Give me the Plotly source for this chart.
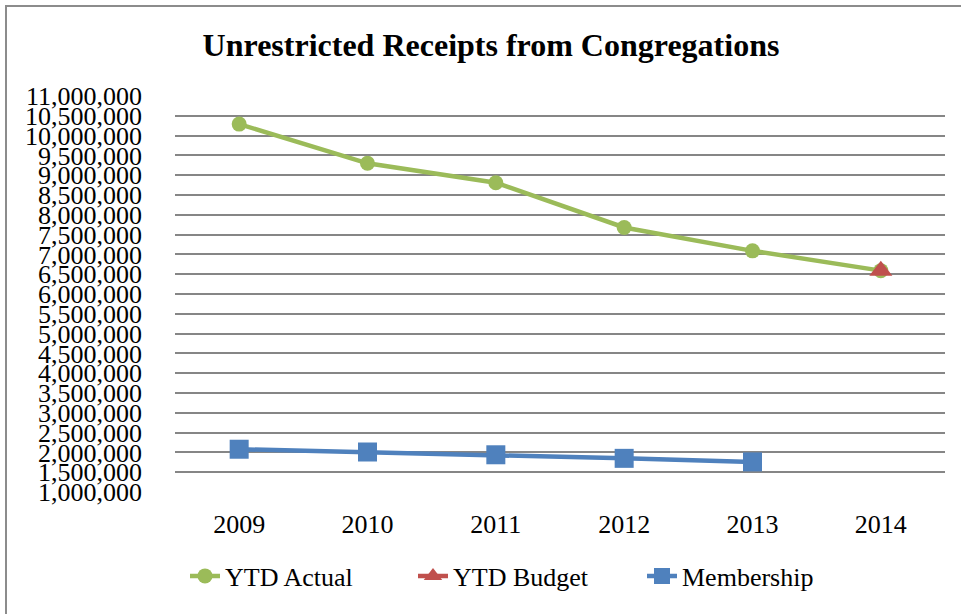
import plotly.graph_objects as go

years = ["2009", "2010", "2011", "2012", "2013", "2014"]
ytd_actual = [10290000, 9300000, 8810000, 7680000, 7090000, 6590000]
ytd_budget = [None, None, None, None, None, 6590000]
membership = [2080000, 2010000, 1940000, 1850000, 1760000, None]
y_ticks = list(range(1000000, 11000001, 500000))
y_tick_text = [f"{v:,}" for v in y_ticks]

FONT = "Times New Roman, Liberation Serif, serif"
GREEN = "#9BBB59"
RED = "#C0504D"
BLUE = "#4F81BD"

L, R, T, B = 175, 945, 96, 492
W, H = 961, 614

def px(x):
    return (x - L) / (R - L)

def py(y):
    return 1 - (y - T) / (B - T)

fig = go.Figure()
fig.add_trace(go.Scatter(x=years, y=ytd_actual, name="YTD Actual", mode="lines+markers",
                         line=dict(color=GREEN, width=4.5),
                         marker=dict(symbol="circle", size=15, color=GREEN),
                         legend="legend"))
fig.add_trace(go.Scatter(x=years, y=ytd_budget, name="YTD Budget", mode="lines+markers",
                         line=dict(color=RED, width=4.5),
                         marker=dict(symbol="triangle-up", size=20, color=RED),
                         legend="legend2"))
fig.add_trace(go.Scatter(x=years, y=membership, name="Membership", mode="lines+markers",
                         line=dict(color=BLUE, width=4.5),
                         marker=dict(symbol="square", size=19, color=BLUE),
                         legend="legend3"))

def leg(text_x):
    return dict(orientation="h", x=px(text_x - 42), xanchor="left", y=py(576), yanchor="middle",
                font=dict(family=FONT, size=26, color="black"), bgcolor="rgba(0,0,0,0)")

fig.update_layout(
    width=W, height=H,
    margin=dict(l=L, r=W - R, t=T, b=H - B),
    paper_bgcolor="white", plot_bgcolor="white",
    font=dict(family=FONT, size=26, color="black"),
    title=dict(text="<b>Unrestricted Receipts from Congregations</b>",
               font=dict(family=FONT, size=32, color="black"),
               x=px(491), xanchor="center", xref="paper", y=1 - 45 / H, yanchor="middle"),
    showlegend=True,
    legend=leg(227),
    legend2=leg(455),
    legend3=leg(684),
    xaxis=dict(type="category", range=[-0.5, 5.5], showgrid=False, zeroline=False,
               showline=False, ticks="", ticklabelstandoff=14,
               tickfont=dict(family=FONT, size=26)),
    yaxis=dict(range=[1000000, 11000000], tickvals=y_ticks, ticktext=y_tick_text,
               showgrid=True, gridcolor="#868686", gridwidth=1.8, zeroline=False,
               showline=False, ticks="", ticklabelstandoff=32,
               tickfont=dict(family=FONT, size=26)),
    shapes=[dict(type="rect", xref="paper", yref="paper",
                 x0=px(6), x1=px(975), y0=py(625), y1=py(6),
                 line=dict(color="#8C8C8C", width=2), layer="below")],
)

fig.write_html("out.html", config={"displayModeBar": False},
               post_script="document.body.style.margin='0px';")
